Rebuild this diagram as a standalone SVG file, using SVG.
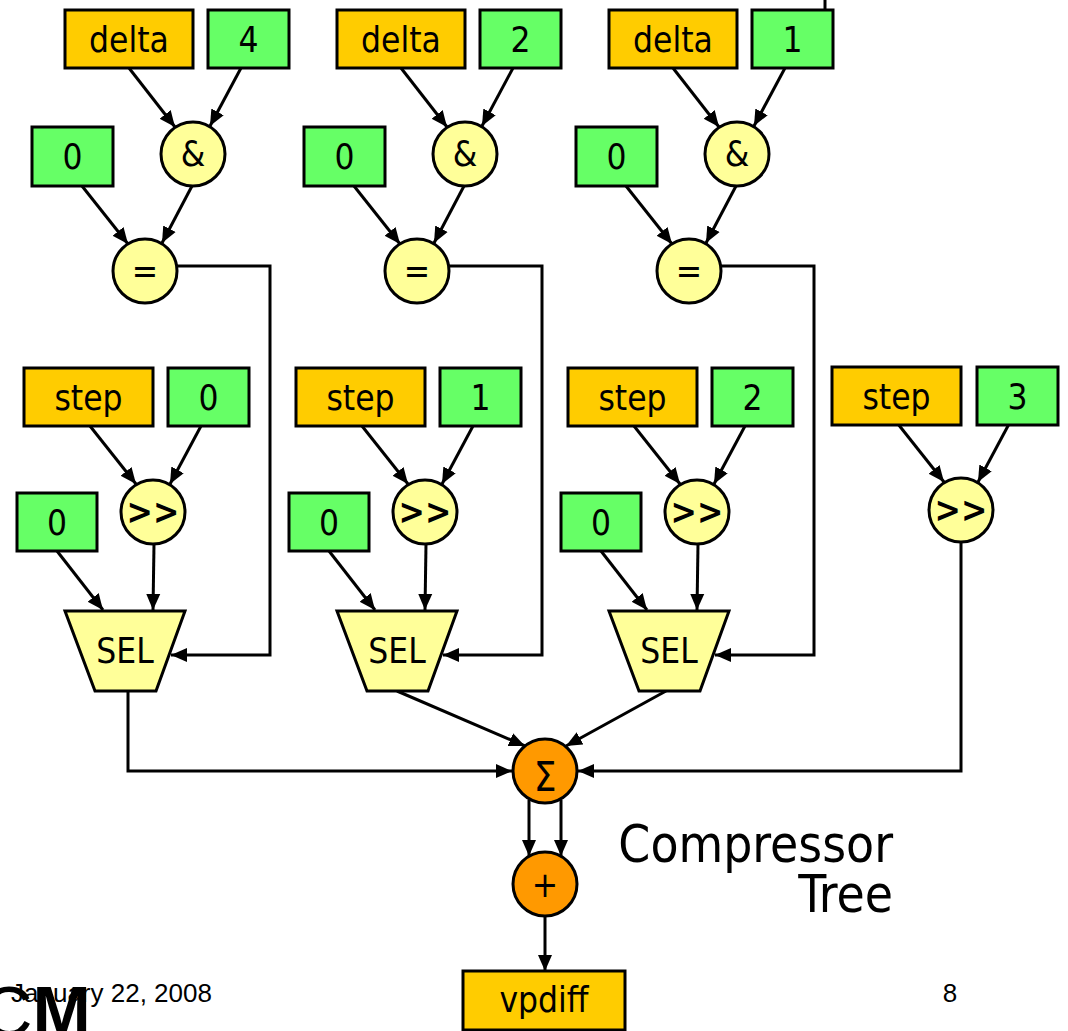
<svg xmlns="http://www.w3.org/2000/svg" width="1068" height="1031" viewBox="0 0 1068 1031">
  <style>
    .box { stroke: #000; stroke-width: 3; }
    .var { fill: #FFCC00; }
    .const { fill: #66FF66; }
    .op { fill: #FFFF99; stroke: #000; stroke-width: 3; }
    .sum { fill: #FF9900; stroke: #000; stroke-width: 3; }
    .lbl { font-family: "DejaVu Sans Condensed", "DejaVu Sans", sans-serif; font-size: 35px; fill: #000; text-anchor: middle; }
    .bold { font-weight: bold; }
    .wire { fill: none; stroke: #000; stroke-width: 3; }
    .arr { marker-end: url(#head); }
    .foot { font-family: "Liberation Sans", Arial, sans-serif; font-size: 26px; fill: #000; }
  </style>
  <defs>
    <marker id="head" markerUnits="userSpaceOnUse" markerWidth="18" markerHeight="16" refX="16" refY="8" orient="auto">
      <path d="M0,1 L16,8 L0,15 Z" fill="#000"/>
    </marker>
    <!-- one bit-test stage: delta & 2^k == 0 -->
    <g id="testStage">
      <rect class="box var" x="65" y="10" width="128" height="58"/>
      <text class="lbl" x="129" y="52">delta</text>
      <rect class="box const" x="208" y="10" width="81" height="58"/>
      <circle class="op" cx="193" cy="154" r="32"/>
      <text class="lbl" x="193" y="166">&amp;</text>
      <rect class="box const" x="32" y="127" width="81" height="59"/>
      <text class="lbl" x="72.5" y="169">0</text>
      <circle class="op" cx="145" cy="271" r="32"/>
      <text class="lbl" x="145" y="283">=</text>
    </g>
    <!-- one shift-and-select stage -->
    <g id="selStage">
      <rect class="box var" x="24" y="368" width="129" height="58"/>
      <text class="lbl" x="88.5" y="410">step</text>
      <rect class="box const" x="168" y="368" width="81" height="58"/>
      <circle class="op" cx="153" cy="512" r="32"/>
      <text class="lbl bold" x="153" y="524">&gt;&gt;</text>
      <rect class="box const" x="17" y="493" width="80" height="58"/>
      <text class="lbl" x="57" y="535">0</text>
      <polygon class="op" points="65,611 185,611 156,691 95,691"/>
      <text class="lbl" x="125" y="663">SEL</text>
    </g>
  </defs>

  <!-- connectors -->
  <g id="connectors">
    <!-- bit-test stages -->
    <g id="wires-test-0">
      <line class="wire arr" x1="129" y1="68" x2="175" y2="127"/>
      <line class="wire arr" x1="241" y1="68" x2="210" y2="126"/>
      <line class="wire arr" x1="82" y1="186" x2="128" y2="244"/>
      <line class="wire arr" x1="192" y1="186" x2="162" y2="243"/>
      <polyline class="wire arr" points="177,266 270,266 270,655 171,655"/>
    </g>
    <g transform="translate(272,0)">
      <line class="wire arr" x1="129" y1="68" x2="175" y2="127"/>
      <line class="wire arr" x1="241" y1="68" x2="210" y2="126"/>
      <line class="wire arr" x1="82" y1="186" x2="128" y2="244"/>
      <line class="wire arr" x1="192" y1="186" x2="162" y2="243"/>
      <polyline class="wire arr" points="177,266 270,266 270,655 171,655"/>
    </g>
    <g transform="translate(544,0)">
      <line class="wire arr" x1="129" y1="68" x2="175" y2="127"/>
      <line class="wire arr" x1="241" y1="68" x2="210" y2="126"/>
      <line class="wire arr" x1="82" y1="186" x2="128" y2="244"/>
      <line class="wire arr" x1="192" y1="186" x2="162" y2="243"/>
      <polyline class="wire arr" points="177,266 270,266 270,655 171,655"/>
    </g>
    <!-- shift/select stages -->
    <g>
      <line class="wire arr" x1="90" y1="426" x2="136" y2="484"/>
      <line class="wire arr" x1="201" y1="426" x2="170" y2="484"/>
      <line class="wire arr" x1="57" y1="551" x2="103" y2="610"/>
      <line class="wire arr" x1="154" y1="544" x2="153" y2="610"/>
    </g>
    <g transform="translate(272,0)">
      <line class="wire arr" x1="90" y1="426" x2="136" y2="484"/>
      <line class="wire arr" x1="201" y1="426" x2="170" y2="484"/>
      <line class="wire arr" x1="57" y1="551" x2="103" y2="610"/>
      <line class="wire arr" x1="154" y1="544" x2="153" y2="610"/>
    </g>
    <g transform="translate(544,0)">
      <line class="wire arr" x1="90" y1="426" x2="136" y2="484"/>
      <line class="wire arr" x1="201" y1="426" x2="170" y2="484"/>
      <line class="wire arr" x1="57" y1="551" x2="103" y2="610"/>
      <line class="wire arr" x1="154" y1="544" x2="153" y2="610"/>
    </g>
    <g transform="translate(808,-2)">
      <line class="wire arr" x1="90" y1="426" x2="136" y2="484"/>
      <line class="wire arr" x1="201" y1="426" x2="170" y2="484"/>
    </g>
    <!-- into the compressor -->
    <polyline class="wire arr" points="128,691 128,771 512,771"/>
    <line class="wire arr" x1="397" y1="691" x2="525" y2="746"/>
    <line class="wire arr" x1="666" y1="691" x2="566" y2="746"/>
    <polyline class="wire arr" points="961,542 961,771 578,771"/>
    <!-- compressor to adder -->
    <line class="wire arr" x1="529" y1="800" x2="529" y2="856"/>
    <line class="wire arr" x1="561" y1="800" x2="561" y2="856"/>
    <line class="wire arr" x1="545" y1="916" x2="545" y2="971"/>
    <line class="wire" x1="825" y1="0" x2="825" y2="9"/>
  </g>

  <!-- bit-test nodes -->
  <g id="test-4">
    <use href="#testStage"/>
    <text class="lbl" x="248.5" y="52">4</text>
  </g>
  <g id="test-2" transform="translate(272,0)">
    <use href="#testStage"/>
    <text class="lbl" x="248.5" y="52">2</text>
  </g>
  <g id="test-1" transform="translate(544,0)">
    <use href="#testStage"/>
    <text class="lbl" x="248.5" y="52">1</text>
  </g>

  <!-- shift/select nodes -->
  <g id="sel-0">
    <use href="#selStage"/>
    <text class="lbl" x="208.5" y="410">0</text>
  </g>
  <g id="sel-1" transform="translate(272,0)">
    <use href="#selStage"/>
    <text class="lbl" x="208.5" y="410">1</text>
  </g>
  <g id="sel-2" transform="translate(544,0)">
    <use href="#selStage"/>
    <text class="lbl" x="208.5" y="410">2</text>
  </g>
  <g id="shift-3" transform="translate(808,-2)">
    <rect class="box var" x="24" y="369" width="129" height="58"/>
    <text class="lbl" x="88.5" y="411">step</text>
    <rect class="box const" x="169" y="369" width="81" height="58"/>
    <text class="lbl" x="209.5" y="411">3</text>
    <circle class="op" cx="153" cy="512" r="32"/>
    <text class="lbl bold" x="153" y="524">&gt;&gt;</text>
  </g>

  <!-- compressor tree and final adder -->
  <g id="compressor">
    <circle class="sum" cx="545" cy="771" r="32"/>
    <text class="lbl" x="545" y="791" style="font-size:40px">Σ</text>
  </g>
  <g id="adder">
    <circle class="sum" cx="545" cy="884" r="32"/>
    <text class="lbl" x="545" y="897">+</text>
  </g>
  <g id="vpdiff">
    <rect class="box var" x="463" y="971" width="162" height="59"/>
    <text class="lbl" x="544" y="1012">vpdiff</text>
  </g>

  <g id="caption">
    <text class="lbl" x="893" y="862" style="font-size:51px;text-anchor:end">Compressor</text>
    <text class="lbl" x="893" y="912" style="font-size:51px;text-anchor:end">Tree</text>
  </g>

  <!-- slide footer -->
  <g id="footer">
    <text class="foot" x="11" y="1002">January 22, 2008</text>
    <text class="foot" x="950" y="1002" text-anchor="middle">8</text>
    <text x="-18" y="1036" style="font-family:'Liberation Sans',Arial,sans-serif;font-size:70px;fill:#000">C<tspan font-weight="bold">M</tspan></text>
  </g>
</svg>
